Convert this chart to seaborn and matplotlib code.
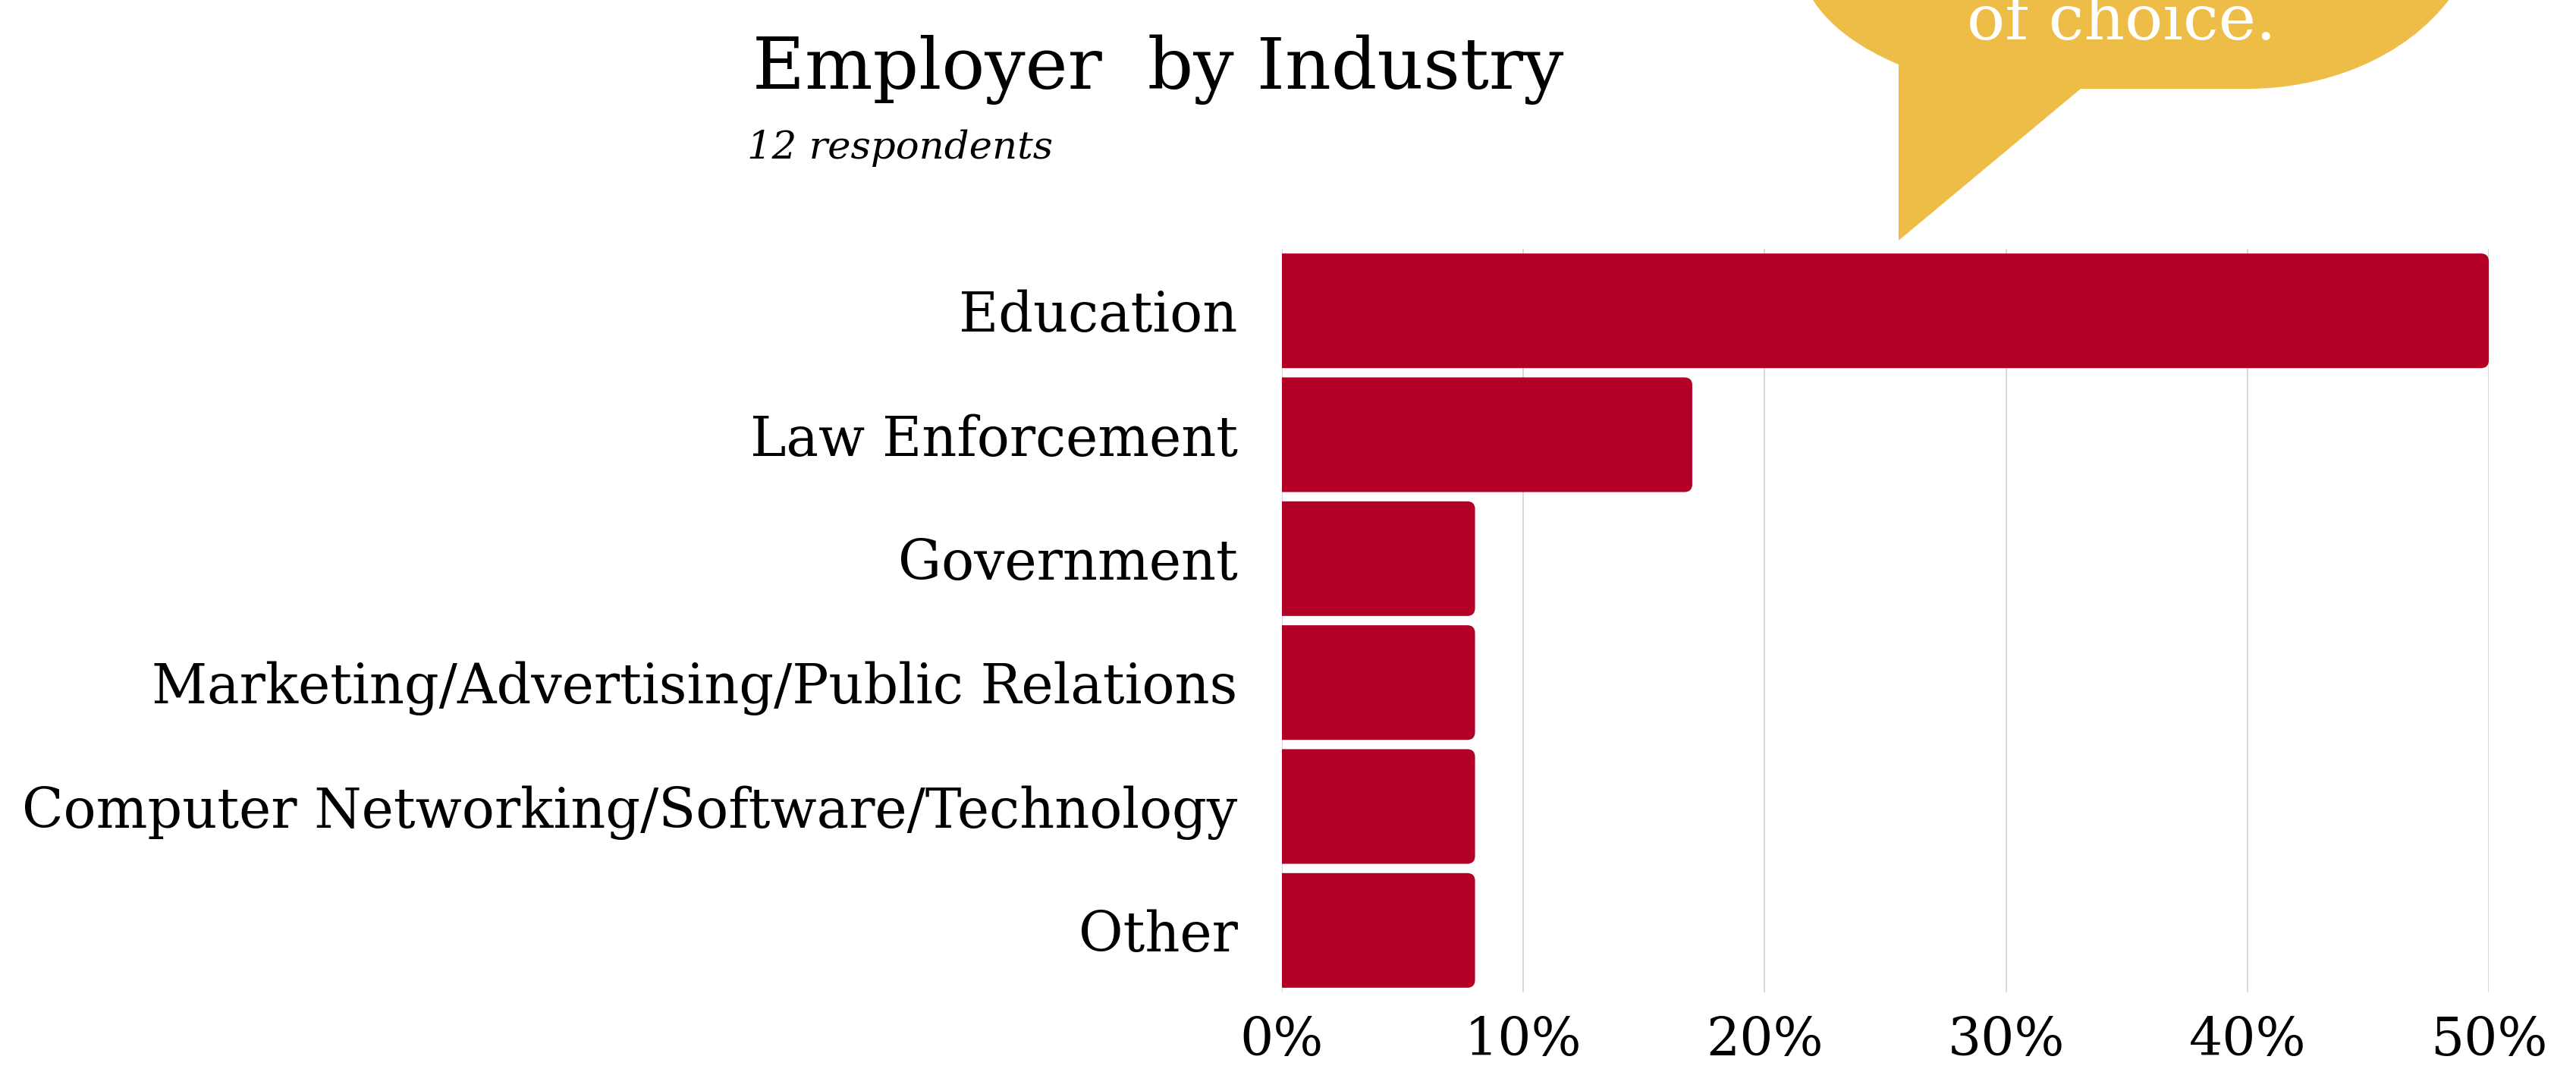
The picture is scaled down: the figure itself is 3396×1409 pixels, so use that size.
import numpy as np
import pandas as pd
import seaborn as sns
import matplotlib.pyplot as plt
from matplotlib.patches import FancyBboxPatch, PathPatch
from matplotlib.path import Path

# data (12 respondents, rounded percents)
industries = ['Education', 'Law Enforcement', 'Government',
              'Marketing/Advertising/Public Relations',
              'Computer Networking/Software/Technology', 'Other']
shares = [50, 17, 8, 8, 8, 8]
x_ticks = [0, 10, 20, 30, 40, 50]
x_tick_labels = ['0%', '10%', '20%', '30%', '40%', '50%']

BAR_RED = '#B30026'
BUBBLE_YELLOW = '#EDBD47'
W, H = 3396, 1409

sns.set_theme(style='white')
plt.rcParams['font.family'] = ['DejaVu Serif']

df = pd.DataFrame({'industry': industries, 'share': shares})

fig = plt.figure(figsize=(W / 100, H / 100), dpi=100)
ax = fig.add_axes([1690 / W, 1 - 1308 / H, (3281 - 1690) / W, (1308 - 328) / H])

sns.barplot(data=df, x='share', y='industry', orient='h', color=BAR_RED,
            saturation=1, width=0.925, ax=ax, zorder=3)
ax.set_xlim(0, 50)
ax.set_ylim(5.5, -0.5)

# swap the plain bars for ones with rounded right corners
r = 0.32
aspect = (1 / 163) / (1 / 31.8)
for p in list(ax.patches):
    x0, y0, w, h = p.get_x(), p.get_y(), p.get_width(), p.get_height()
    p.remove()
    ax.add_patch(FancyBboxPatch((x0 - r, y0), w + r, h,
                                boxstyle=f'round,pad=0,rounding_size={r}',
                                mutation_aspect=aspect, facecolor=BAR_RED,
                                edgecolor='none', zorder=3))

ax.set_xticks(x_ticks)
ax.set_xticklabels(x_tick_labels)
ax.grid(axis='x', color='#D8D8D8', linewidth=1.4, zorder=0)
ax.grid(axis='y', visible=False)
for s in ax.spines.values():
    s.set_visible(False)
ax.tick_params(axis='x', length=0, pad=22, labelsize=50, labelcolor='black')
ax.tick_params(axis='y', length=0, pad=42, labelsize=51.5, labelcolor='black')
ax.set_xlabel('')
ax.set_ylabel('')

# title block
fig.text(992 / W, 1 - 117 / H, 'Employer  by Industry', fontsize=68,
         color='black', ha='left', va='baseline')
fig.text(985 / W, 1 - 209 / H, '12 respondents', fontsize=37, style='italic',
         color='black', ha='left', va='baseline')

# speech bubble cut off at the top edge
pts = [(2387, -5), (2410, 35), (2455, 65), (2503, 85),
       (2503, 317), (2743, 117), (2964, 117),
       (3060, 117), (3170, 80), (3232, -5), (2387, -5)]
codes = [Path.MOVETO, Path.CURVE4, Path.CURVE4, Path.CURVE4,
         Path.LINETO, Path.LINETO, Path.LINETO,
         Path.CURVE4, Path.CURVE4, Path.CURVE4, Path.CLOSEPOLY]
verts = [(x / W, 1 - y / H) for x, y in pts]
fig.patches.append(PathPatch(Path(verts, codes), transform=fig.transFigure,
                             facecolor=BUBBLE_YELLOW, edgecolor='none'))
fig.text(2797 / W, 1 - 52 / H, 'of choice.', fontsize=60, color='white',
         ha='center', va='baseline')

fig.savefig('out.png', dpi=100)
